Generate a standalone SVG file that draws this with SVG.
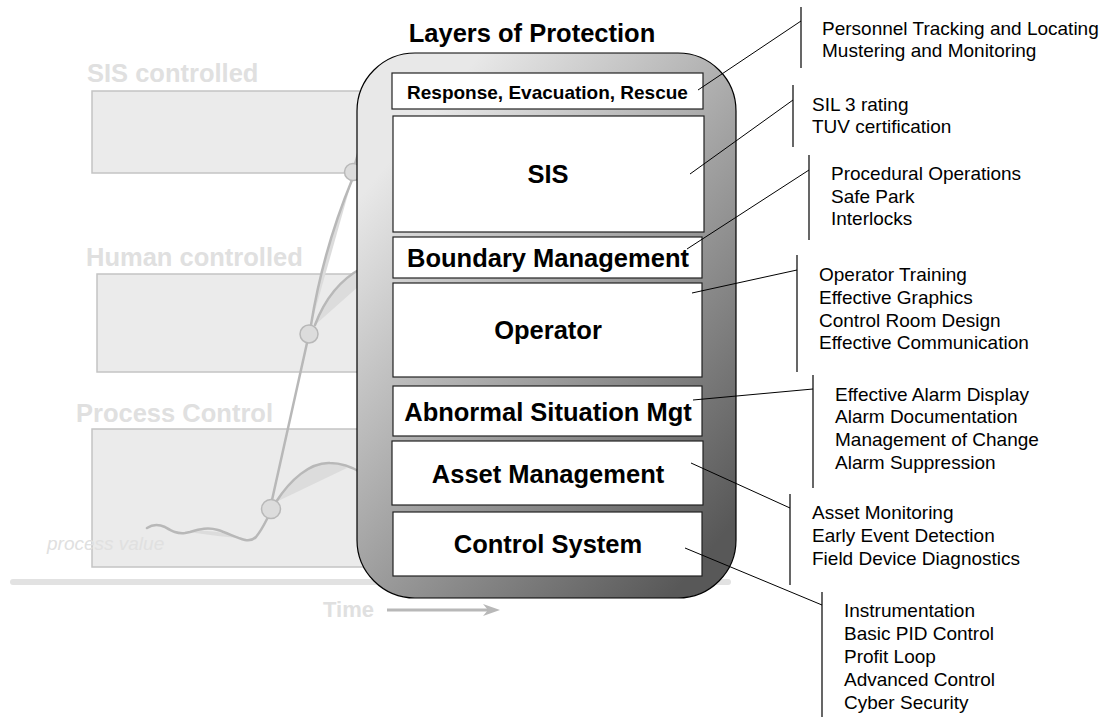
<svg xmlns="http://www.w3.org/2000/svg" width="1109" height="717" viewBox="0 0 1109 717">
<defs>
<linearGradient id="g" gradientUnits="userSpaceOnUse" x1="357" y1="200" x2="736" y2="520">
<stop offset="0" stop-color="#e8e8e8"/>
<stop offset="1" stop-color="#585858"/>
</linearGradient>
<style>
.bg{fill:#ebebeb;stroke:#c4c4c4;stroke-width:1.5}
.bgl{font-family:"Liberation Sans",Arial,sans-serif;font-weight:bold;font-size:25.5px;fill:#e0e0e0}
.cv{fill:none;stroke:#b8b8b8;stroke-width:2.5;stroke-linecap:round}
.sh{fill:#dcdcdc;stroke:none}
.dot{fill:#dcdcdc;stroke:#b8b8b8;stroke-width:1.5}
.box{fill:#fff;stroke:#222;stroke-width:1.2}
.bt{font-family:"Liberation Sans",Arial,sans-serif;font-weight:bold;font-size:25.5px;fill:#000;text-anchor:middle}
.rt{font-family:"Liberation Sans",Arial,sans-serif;font-size:19px;fill:#000}
.br{stroke:#000;stroke-width:1.2}
.cn{stroke:#000;stroke-width:1}
</style>
</defs>
<rect width="1109" height="717" fill="#fff"/>
<g id="background">
<rect class="bg" x="92" y="91" width="290" height="82"/>
<rect class="bg" x="97" y="274" width="285" height="98"/>
<rect class="bg" x="92" y="429" width="290" height="138"/>
<text class="bgl" x="87" y="82">SIS controlled</text>
<text class="bgl" x="86" y="266">Human controlled</text>
<text class="bgl" x="76" y="422">Process Control</text>
<text x="47" y="550" style="font-family:'Liberation Sans',Arial,sans-serif;font-style:italic;font-size:19px;fill:#e0e0e0">process value</text>
<line x1="13" y1="582" x2="728" y2="582" stroke="#e2e2e2" stroke-width="6" stroke-linecap="round"/>
<text x="323" y="617" style="font-family:'Liberation Sans',Arial,sans-serif;font-weight:bold;font-size:22px;fill:#e0e0e0">Time</text>
<line x1="387" y1="610" x2="490" y2="610" stroke="#b8b8b8" stroke-width="3"/>
<polygon points="500,610 483,604 488,610 483,616" fill="#b8b8b8"/>
<path class="sh" d="M188,532 C208,528 228,534 247,539 C228,537 208,535 188,532 Z"/>
<path class="sh" d="M276,502 C290,480 310,462 330,463 C340,463 345,466 347,468 Z"/>
<path class="sh" d="M315,325 Q330,285 360,270 L360,285 Z"/>
<path class="sh" d="M311,325 Q323,250 352,180 Z"/>
<path class="cv" d="M147,528 C153,524 158,524 165,527 C172,531 177,534 185,533 L190,532 C200,529 208,527 218,530 C228,533 236,538 245,540 C250,541 253,540 256,537 C260,532 264,525 267,519"/>
<path class="cv" d="M272,500 L307,343"/>
<path class="cv" d="M276,502 C290,480 310,462 330,463 C342,463 352,467 362,473"/>
<path class="cv" d="M311,325 Q323,250 352,180"/>
<path class="cv" d="M315,325 Q330,285 362,268"/>
<path class="cv" d="M355,164 L362,140"/>
<circle class="dot" cx="271" cy="509" r="9.5"/>
<circle class="dot" cx="309" cy="334" r="9"/>
<circle class="dot" cx="353" cy="172" r="8.5"/>
</g>
<text id="title" x="532" y="42" class="bt">Layers of Protection</text>
<g id="layers">
<rect x="357" y="53" width="379" height="545" rx="58" ry="58" fill="url(#g)" stroke="#000" stroke-width="1.2"/>
</g>
<g id="response"><rect class="box" x="392" y="73" width="311" height="36"/><text class="bt" x="547.5" y="99" style="font-size:19px">Response, Evacuation, Rescue</text></g>
<g id="sis"><rect class="box" x="393" y="116" width="311" height="116"/><text class="bt" x="548" y="183">SIS</text></g>
<g id="boundary"><rect class="box" x="393" y="237" width="309" height="41"/><text class="bt" x="548" y="267">Boundary Management</text></g>
<g id="operator"><rect class="box" x="393" y="283" width="309" height="94"/><text class="bt" x="548" y="339">Operator</text></g>
<g id="abnormal"><rect class="box" x="393" y="386" width="309" height="50"/><text class="bt" x="548" y="421">Abnormal Situation Mgt</text></g>
<g id="asset"><rect class="box" x="392" y="441" width="311" height="64"/><text class="bt" x="548" y="483">Asset Management</text></g>
<g id="control"><rect class="box" x="393" y="512" width="309" height="64"/><text class="bt" x="548" y="553">Control System</text></g>
<g id="connectors">
<line class="cn" x1="698" y1="90" x2="801" y2="21"/>
<line class="cn" x1="690" y1="174" x2="793" y2="100"/>
<line class="cn" x1="687" y1="249" x2="809" y2="170"/>
<line class="cn" x1="692" y1="293" x2="797" y2="270"/>
<line class="cn" x1="693" y1="400" x2="813" y2="389"/>
<line class="cn" x1="691" y1="463" x2="790" y2="508"/>
<line class="cn" x1="685" y1="548" x2="822" y2="605"/>
<line class="br" x1="801" y1="7" x2="801" y2="68"/>
<line class="br" x1="793" y1="85" x2="793" y2="147"/>
<line class="br" x1="809" y1="155" x2="809" y2="240"/>
<line class="br" x1="797" y1="255" x2="797" y2="372"/>
<line class="br" x1="813" y1="375" x2="813" y2="488"/>
<line class="br" x1="790" y1="494" x2="790" y2="585"/>
<line class="br" x1="822" y1="592" x2="822" y2="717"/>
</g>
<g id="note-response"><text class="rt" x="822" y="35">Personnel Tracking and Locating</text><text class="rt" x="822" y="57">Mustering and Monitoring</text></g>
<g id="note-sis"><text class="rt" x="812" y="111">SIL 3 rating</text><text class="rt" x="812" y="133">TUV certification</text></g>
<g id="note-boundary"><text class="rt" x="831" y="180">Procedural Operations</text><text class="rt" x="831" y="202.5">Safe Park</text><text class="rt" x="831" y="225">Interlocks</text></g>
<g id="note-operator"><text class="rt" x="819" y="281">Operator Training</text><text class="rt" x="819" y="303.5">Effective Graphics</text><text class="rt" x="819" y="326.5">Control Room Design</text><text class="rt" x="819" y="349">Effective Communication</text></g>
<g id="note-abnormal"><text class="rt" x="835" y="400.5">Effective Alarm Display</text><text class="rt" x="835" y="423">Alarm Documentation</text><text class="rt" x="835" y="446">Management of Change</text><text class="rt" x="835" y="469">Alarm Suppression</text></g>
<g id="note-asset"><text class="rt" x="812" y="519">Asset Monitoring</text><text class="rt" x="812" y="542">Early Event Detection</text><text class="rt" x="812" y="565">Field Device Diagnostics</text></g>
<g id="note-control"><text class="rt" x="844" y="616.5">Instrumentation</text><text class="rt" x="844" y="639.5">Basic PID Control</text><text class="rt" x="844" y="662.5">Profit Loop</text><text class="rt" x="844" y="685.5">Advanced Control</text><text class="rt" x="844" y="708.5">Cyber Security</text></g>
</svg>
